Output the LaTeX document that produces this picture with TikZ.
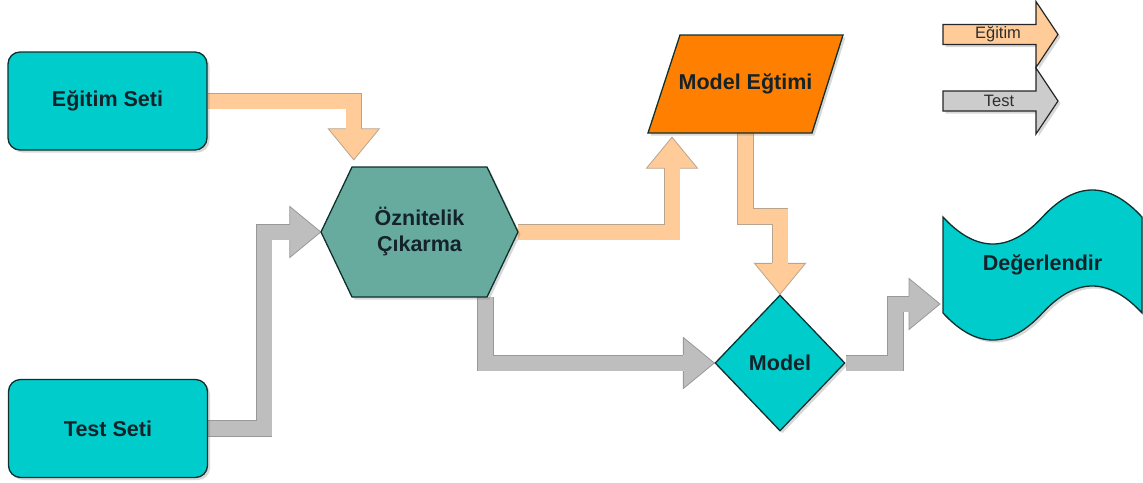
\documentclass[tikz,border=0pt]{standalone}
\usepackage{fontspec}
\setmainfont{Liberation Sans}
\usetikzlibrary{calc,shadows,shapes.geometric,backgrounds}

\definecolor{setcyan}{HTML}{00CCCC}
\definecolor{featteal}{HTML}{67AB9F}
\definecolor{trainorange}{HTML}{FF8000}
\definecolor{peach}{HTML}{FFCC99}
\definecolor{peachedge}{HTML}{B9A48E}
\definecolor{flowgray}{HTML}{BEBEBE}
\definecolor{flowedge}{HTML}{989898}
\definecolor{keygray}{HTML}{CCCCCC}
\definecolor{ink}{HTML}{14232A}
\definecolor{outline}{HTML}{10302E}

\tikzset{
  lbl/.style={font=\fontsize{21.5}{26}\selectfont\bfseries, text=ink, align=center, inner sep=0pt},
  softshadow/.style={drop shadow={shadow xshift=2.5pt, shadow yshift=-2.5pt, opacity=0.28, fill=black!55}},
  outlined/.style={draw=outline, line width=1.3pt, line join=miter, softshadow},
  setbox/.style={outlined, lbl, fill=setcyan, rounded corners=12pt, minimum width=199pt, minimum height=98pt},
  band/.style={line width=0.8pt, double distance=15pt, line join=miter},
  trainband/.style={band, draw=peachedge, double=peach},
  testband/.style={band, draw=flowedge, double=flowgray},
  trainhead/.pic={
    \fill[peach] (0,0) -- (-31,25.5) -- (-31,-25.5) -- cycle;
    \fill[peach] (-32,-7.4) rectangle (-30,7.4);
    \draw[peachedge, line width=0.8pt, line join=miter]
      (-31,7.9) -- (-31,25.5) -- (0,0) -- (-31,-25.5) -- (-31,-7.9);
  },
  testhead/.pic={
    \fill[flowgray] (0,0) -- (-31,25.5) -- (-31,-25.5) -- cycle;
    \fill[flowgray] (-32,-7.4) rectangle (-30,7.4);
    \draw[flowedge, line width=0.8pt, line join=miter]
      (-31,7.9) -- (-31,25.5) -- (0,0) -- (-31,-25.5) -- (-31,-7.9);
  },
  keyarrow/.style={draw=black!85, line width=1.2pt, line join=miter, softshadow},
  keylbl/.style={font=\fontsize{16.5}{19}\selectfont, text=black!82, inner sep=0pt},
}

\begin{document}
\begin{tikzpicture}[x=1pt,y=-1pt]
\useasboundingbox (0,0) rectangle (1143,482);

% data sets
\node[setbox] (es) at (107.5,101) {Eğitim Seti};
\node[setbox] (ts) at (108,428.5) {Test Seti};

% feature extraction (hexagon)
\coordinate (hexc) at (419.5,232);
\draw[outlined, fill=featteal] ($(hexc)+(-67.5,-65)$) -- ++(135,0) -- ++(31,65)
  -- ++(-31,65) -- ++(-135,0) -- ++(-31,-65) -- cycle;
\node[lbl, minimum width=135pt, minimum height=130pt] (hex) at (hexc) {Öznitelik\\Çıkarma};
\coordinate (hexL) at ($(hex.west)+(-31,0)$);
\coordinate (hexR) at ($(hex.east)+(31,0)$);

% model training (parallelogram)
\coordinate (mec) at (745.5,84);
\draw[outlined, fill=trainorange] ($(mec)+(-97.5,49)$) -- ($(mec)+(-65.5,-49)$)
  -- ($(mec)+(97.5,-49)$) -- ($(mec)+(66.5,49)$) -- cycle;
\node[lbl, minimum width=131pt, minimum height=98pt] (me) at (mec) {Model Eğtimi};

% model (diamond)
\node[outlined, lbl, diamond, fill=setcyan, minimum width=130pt, minimum height=136pt]
  (model) at (780,363) {Model};

% evaluation (tape)
\coordinate (valc) at (1042.5,265);
\begin{scope}[shift={(valc)}]
  \draw[outlined, fill=setcyan] (-99.5,-48) .. controls (-66.3,-12) and (-33.2,-12) .. (0,-48)
    .. controls (33.2,-84) and (66.3,-84) .. (99.5,-48) -- (99.5,48)
    .. controls (66.3,12) and (33.2,12) .. (0,48)
    .. controls (-33.2,84) and (-66.3,84) .. (-99.5,48) -- cycle;
\end{scope}
\node[lbl] (val) at (valc) {Değerlendir};

% flow arrows
\begin{scope}[on background layer]
  \coordinate (tipA) at ($(hex.north west)+(2,-7)$);
  \draw[trainband] (es.east) -| ($(tipA)+(0,-31)$);
  \pic[rotate=-90] at (tipA) {trainhead};

  \draw[testband] (ts.east) -- ++(56,0) |- ($(hexL)+(-31,0)$);
  \pic at (hexL) {testhead};

  \coordinate (tipC) at ($(me.south)+(-73.5,4)$);
  \draw[trainband] (hexR) -| ($(tipC)+(0,31)$);
  \pic[rotate=90] at (tipC) {trainhead};

  \draw[trainband] (me.south) -- ++(0,83) -| ($(model.north)+(0,-31)$);
  \pic[rotate=-90] at (model.north) {trainhead};

  \draw[testband] ($(hex.south east)+(-2,0)$) |- ($(model.west)+(-31,0)$);
  \pic at (model.west) {testhead};

  \coordinate (tipF) at ($(valc)+(-102.5,39)$);
  \draw[testband] (model.east) -- ++(50,0) |- ($(tipF)+(-31,0)$);
  \pic at (tipF) {testhead};
\end{scope}

% legend
\draw[keyarrow, fill=peach] (943,24.5) -- (1036,24.5) -- (1036,1.5) -- (1058,34.5)
  -- (1036,67.5) -- (1036,44.5) -- (943,44.5) -- cycle;
\node[keylbl] (keytrain) at (998,34.5) {Eğitim};
\draw[keyarrow, fill=keygray] (943,91) -- (1036,91) -- (1036,68) -- (1058,101)
  -- (1036,134) -- (1036,111) -- (943,111) -- cycle;
\node[keylbl] (keytest) at (999,101) {Test};
\end{tikzpicture}
\end{document}
